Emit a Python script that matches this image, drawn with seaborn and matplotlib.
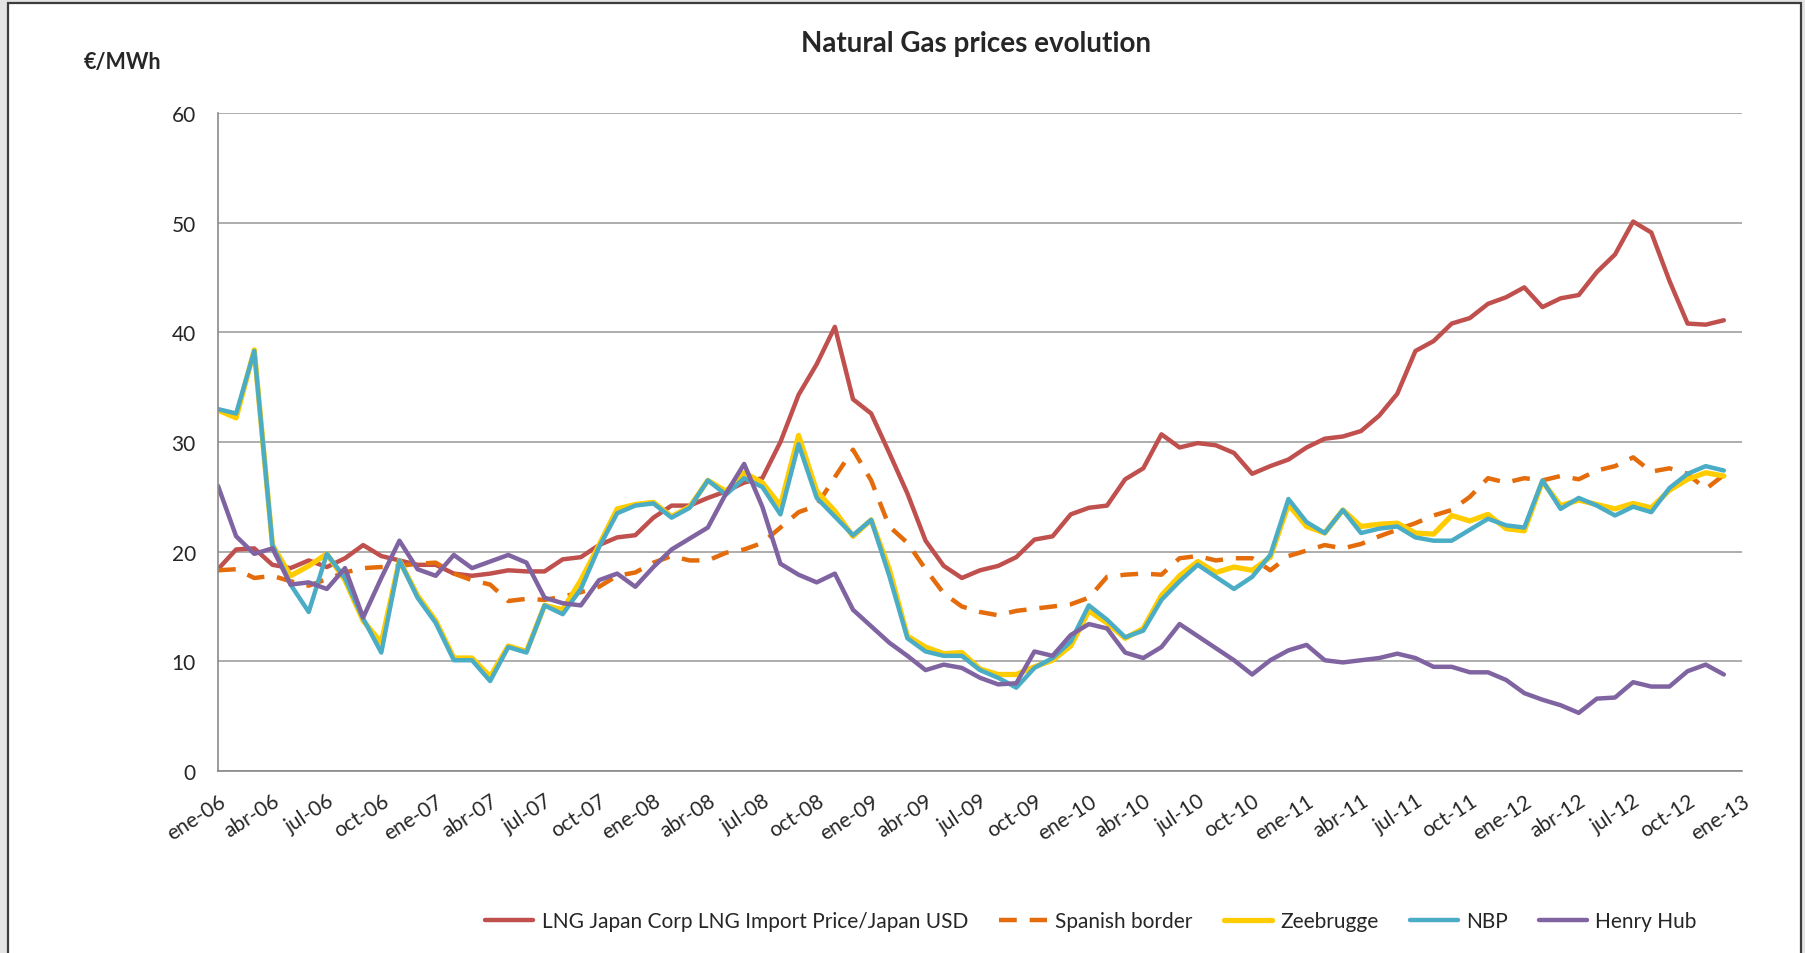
import matplotlib
matplotlib.use('Agg')
import matplotlib.pyplot as plt
from matplotlib.patches import Rectangle
import seaborn as sns
import pandas as pd

# monthly series, ene-06 .. dic-12 (EUR/MWh)
lng_japan = [18.4, 20.2, 20.3, 18.8, 18.5, 19.2, 18.6, 19.4, 20.6, 19.6, 19.2, 18.8,
             18.8, 18.0, 17.8, 18.0, 18.3, 18.2, 18.2, 19.3, 19.5, 20.6, 21.3, 21.5,
             23.1, 24.2, 24.2, 24.9, 25.5, 26.3, 26.7, 30.0, 34.3, 37.1, 40.5, 33.9,
             32.6, 29.0, 25.3, 21.0, 18.7, 17.6, 18.3, 18.7, 19.5, 21.1, 21.4, 23.4,
             24.0, 24.2, 26.6, 27.6, 30.7, 29.5, 29.9, 29.7, 29.0, 27.1, 27.8, 28.4,
             29.5, 30.3, 30.5, 31.0, 32.4, 34.4, 38.3, 39.2, 40.8, 41.3, 42.6, 43.2,
             44.1, 42.3, 43.1, 43.4, 45.5, 47.1, 50.1, 49.1, 44.7, 40.8, 40.7, 41.1]
spanish = [18.3, 18.4, 17.6, 17.8, 17.3, 16.9, 17.5, 18.1, 18.5, 18.6, 18.7, 18.9,
           19.0, 18.0, 17.4, 17.0, 15.5, 15.7, 15.6, 15.9, 16.3, 16.8, 17.8, 18.1,
           19.0, 19.6, 19.2, 19.2, 19.9, 20.2, 20.8, 22.2, 23.6, 24.2, 26.8, 29.3,
           26.5, 22.3, 20.8, 18.4, 16.2, 15.0, 14.5, 14.2, 14.6, 14.8, 15.0, 15.2,
           15.8, 17.7, 17.9, 18.0, 17.9, 19.4, 19.6, 19.2, 19.4, 19.4, 18.3, 19.6,
           20.1, 20.6, 20.3, 20.7, 21.4, 22.0, 22.6, 23.3, 23.8, 25.0, 26.7, 26.3,
           26.7, 26.5, 26.9, 26.6, 27.4, 27.8, 28.6, 27.3, 27.6, 27.1, 25.7, 27.0]
zeebrugge = [32.9, 32.2, 38.4, 20.6, 17.8, 18.7, 19.8, 17.4, 13.7, 11.7, 19.2, 16.0,
             13.7, 10.3, 10.3, 8.6, 11.4, 10.9, 15.1, 14.7, 17.4, 20.6, 23.9, 24.3,
             24.5, 23.2, 24.1, 26.5, 25.5, 27.2, 26.3, 24.2, 30.6, 25.5, 23.7, 21.4,
             22.9, 18.4, 12.3, 11.3, 10.7, 10.8, 9.3, 8.8, 8.8, 9.5, 10.1, 11.4,
             14.6, 13.5, 12.1, 13.0, 16.0, 17.8, 19.1, 18.1, 18.6, 18.3, 19.5, 24.3,
             22.3, 21.7, 23.8, 22.3, 22.5, 22.6, 21.7, 21.6, 23.3, 22.8, 23.4, 22.1,
             21.9, 26.4, 24.2, 24.7, 24.3, 23.9, 24.4, 24.0, 25.6, 26.6, 27.2, 26.9]
nbp = [33.0, 32.6, 38.3, 20.6, 17.0, 14.5, 19.8, 17.6, 13.9, 10.8, 19.2, 15.8,
       13.5, 10.1, 10.1, 8.2, 11.3, 10.8, 15.1, 14.3, 16.6, 20.4, 23.5, 24.2,
       24.4, 23.1, 24.0, 26.5, 25.2, 26.7, 25.9, 23.4, 29.8, 24.9, 23.2, 21.5,
       22.9, 17.8, 12.1, 10.9, 10.5, 10.5, 9.2, 8.5, 7.6, 9.4, 10.3, 11.8,
       15.1, 13.8, 12.2, 12.8, 15.6, 17.3, 18.8, 17.7, 16.6, 17.7, 19.7, 24.8,
       22.7, 21.7, 23.8, 21.7, 22.1, 22.3, 21.3, 21.0, 21.0, 22.0, 23.0, 22.4,
       22.2, 26.5, 23.9, 24.9, 24.2, 23.3, 24.1, 23.6, 25.8, 27.1, 27.8, 27.4]
henry_hub = [26.0, 21.4, 19.8, 20.3, 17.0, 17.2, 16.6, 18.5, 14.0, 17.6, 21.0, 18.4,
             17.8, 19.7, 18.5, 19.1, 19.7, 19.0, 15.8, 15.3, 15.1, 17.4, 18.0, 16.8,
             18.6, 20.2, 21.2, 22.2, 25.3, 28.0, 24.1, 18.9, 17.9, 17.2, 18.0, 14.7,
             13.2, 11.7, 10.5, 9.2, 9.7, 9.4, 8.5, 7.9, 8.0, 10.9, 10.5, 12.4,
             13.4, 13.0, 10.8, 10.3, 11.3, 13.4, 12.3, 11.2, 10.1, 8.8, 10.1, 11.0,
             11.5, 10.1, 9.9, 10.1, 10.3, 10.7, 10.3, 9.5, 9.5, 9.0, 9.0, 8.3,
             7.1, 6.5, 6.0, 5.3, 6.6, 6.7, 8.1, 7.7, 7.7, 9.1, 9.7, 8.8]

series_names = ['LNG Japan Corp LNG Import Price/Japan USD', 'Spanish border',
                'Zeebrugge', 'NBP', 'Henry Hub']
series_values = [lng_japan, spanish, zeebrugge, nbp, henry_hub]
colors = ['#C0504D', '#E46C0A', '#FFCC00', '#4BACC6', '#8064A2']

months = ['ene', 'abr', 'jul', 'oct']
years = ['06', '07', '08', '09', '10', '11', '12']
tick_labels = [m + '-' + y for y in years for m in months] + ['ene-13']

rows = []
for name, vals in zip(series_names, series_values):
    for i, v in enumerate(vals):
        rows.append({'month': i, 'price': v, 'series': name})
df = pd.DataFrame(rows)

sns.set_style('white')
plt.rcParams['font.family'] = ['Lato', 'DejaVu Sans']

fig = plt.figure(figsize=(18.06, 9.54), dpi=100, facecolor='#e4e4e4')
# white chart area with a dark frame (bottom edge runs off the picture)
fig.patches.append(Rectangle((8 / 1806, -0.05), 1793 / 1806, 1.05 - 4 / 954,
                             transform=fig.transFigure, facecolor='white',
                             edgecolor='#3c3c3c', lw=1.6, zorder=-10))
ax = fig.add_axes([218 / 1806, 1 - 772 / 954, 1524 / 1806, 658 / 954])
ax.set_facecolor('none')

widths = [3.2, 3.2, 3.8, 3.2, 3.2]
for name, c, w in zip(series_names, colors, widths):
    sub = df[df['series'] == name]
    sns.lineplot(data=sub, x='month', y='price', color=c, lw=w, ax=ax,
                 label=name, solid_capstyle='round')
ax.lines[1].set_dashes([4.0, 2.9])

ax.set_xlim(0, 84)
ax.set_ylim(0, 60)
ax.set_yticks(range(0, 61, 10))
ax.set_xticks(range(0, 85, 3))
ax.set_xticklabels(tick_labels, rotation=33, ha='right', va='top',
                   rotation_mode='anchor')
ax.tick_params(axis='x', length=6, width=1.2, color='#8a8a8a', pad=8, labelsize=15)
ax.tick_params(axis='y', length=6, width=1.2, color='#8a8a8a', pad=10, labelsize=15)
ax.yaxis.grid(True, color='#a0a0a0', lw=1.2)
ax.set_axisbelow(True)
for s in ['top', 'right']:
    ax.spines[s].set_visible(False)
for s in ['left', 'bottom']:
    ax.spines[s].set_color('#8a8a8a')
    ax.spines[s].set_linewidth(1.2)
ax.set_xlabel('')
ax.set_ylabel('')

fig.text(0.5405, 1 - 44 / 954, 'Natural Gas prices evolution', ha='center',
         va='center', fontsize=20, fontweight='bold')
fig.text(84 / 1806, 1 - 63 / 954, '€/MWh', ha='left', va='center',
         fontsize=15.5, fontweight='bold')

ax.legend(loc='center', bbox_to_anchor=(1091 / 1806, 1 - 922 / 954),
          bbox_transform=fig.transFigure, ncol=5, frameon=False, fontsize=15,
          handlelength=2.3, columnspacing=1.5, handletextpad=0.4)

plt.savefig('out.png', dpi=100, facecolor=fig.get_facecolor())
